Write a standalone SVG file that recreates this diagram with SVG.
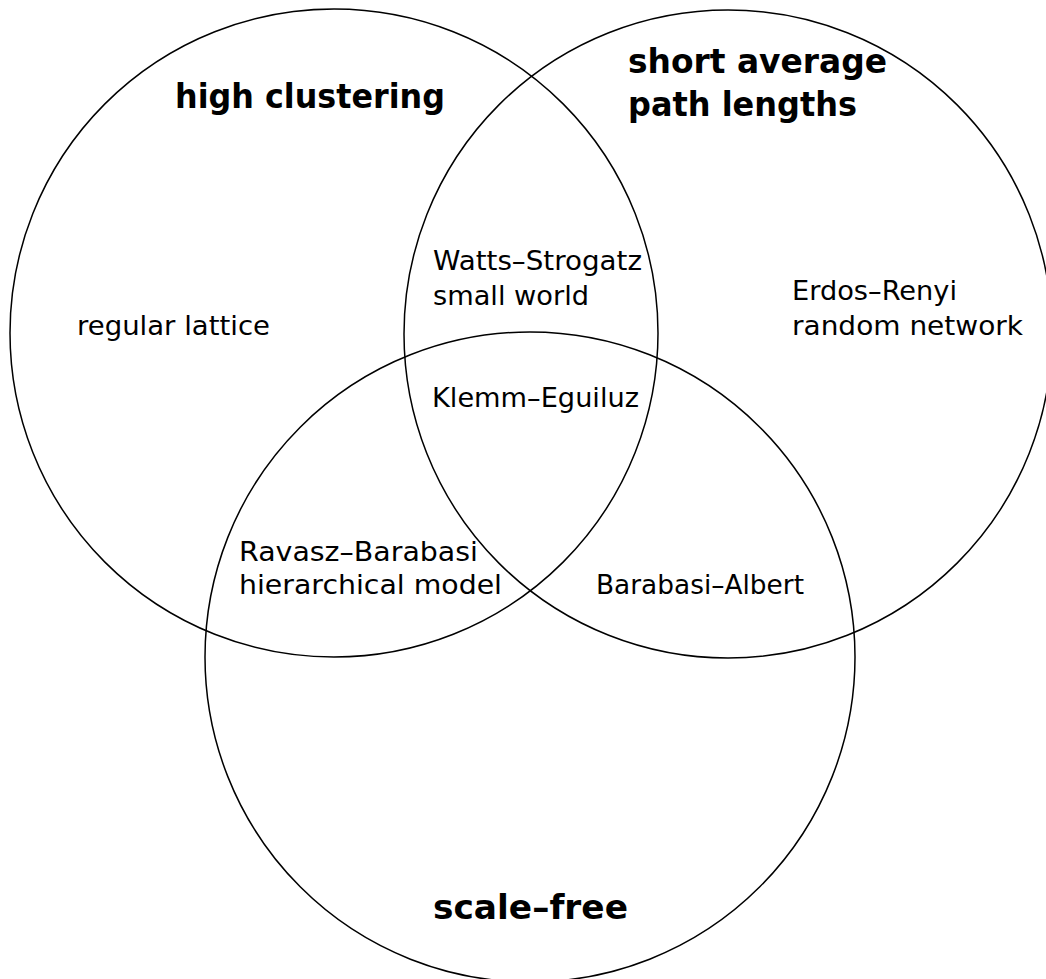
<svg xmlns="http://www.w3.org/2000/svg" width="1046" height="979" viewBox="0 0 1046 979">
<style>
.c{fill:none;stroke:#000;stroke-width:1.5}
.t{font-family:"DejaVu Sans",sans-serif;font-size:27px;fill:#000}
.b{font-family:"DejaVu Sans",sans-serif;font-size:33px;font-weight:bold;fill:#000}
</style>
<rect width="1046" height="979" fill="#fff"/>
<g id="circles">
<circle id="c-clustering" class="c" cx="334" cy="333" r="324"/>
<circle id="c-path" class="c" cx="728" cy="334" r="324"/>
<circle id="c-scalefree" class="c" cx="530" cy="657" r="325"/>
</g>
<g id="labels">
<text class="b" x="175" y="108" textLength="270" lengthAdjust="spacingAndGlyphs">high clustering</text>
<text class="b" x="628" y="73" textLength="259" lengthAdjust="spacingAndGlyphs">short average</text>
<text class="b" x="628" y="116" textLength="229" lengthAdjust="spacingAndGlyphs">path lengths</text>
<text class="b" x="433" y="919" textLength="195" lengthAdjust="spacingAndGlyphs">scale–free</text>
</g>
<g id="n-regular"><text class="t" x="77" y="335" textLength="193" lengthAdjust="spacingAndGlyphs">regular lattice</text></g>
<g id="n-watts">
<text class="t" x="433" y="270" textLength="209" lengthAdjust="spacingAndGlyphs">Watts–Strogatz</text>
<text class="t" x="433" y="305" textLength="156" lengthAdjust="spacingAndGlyphs">small world</text>
</g>
<g id="n-erdos">
<text class="t" x="792" y="300" textLength="165" lengthAdjust="spacingAndGlyphs">Erdos–Renyi</text>
<text class="t" x="792" y="335" textLength="231" lengthAdjust="spacingAndGlyphs">random network</text>
</g>
<g id="n-klemm"><text class="t" x="432" y="407" textLength="207" lengthAdjust="spacingAndGlyphs">Klemm–Eguiluz</text></g>
<g id="n-ravasz">
<text class="t" x="239" y="561" textLength="239" lengthAdjust="spacingAndGlyphs">Ravasz–Barabasi</text>
<text class="t" x="239" y="594" textLength="263" lengthAdjust="spacingAndGlyphs">hierarchical model</text>
</g>
<g id="n-ba"><text class="t" x="596" y="594" textLength="208" lengthAdjust="spacingAndGlyphs">Barabasi–Albert</text></g>
<g id="connectors"/>
</svg>
